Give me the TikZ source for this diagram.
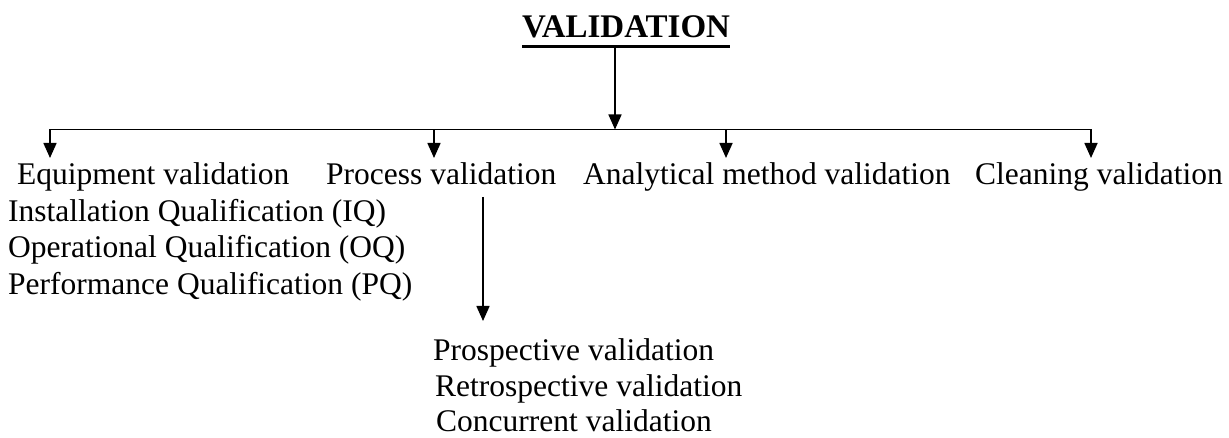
\documentclass[tikz,border=0pt]{standalone}
\usepackage{fontspec}
\setmainfont{Liberation Serif}
\usetikzlibrary{arrows.meta}
\tikzset{
  lbl/.style={anchor=base west, inner sep=0pt, font=\fontsize{31.5}{36}\selectfont},
  ttl/.style={anchor=base west, inner sep=0pt, font=\fontsize{33}{36}\selectfont\bfseries},
  conn/.style={line width=1.6pt, black},
  arr/.style={conn, -{Triangle[width=13pt,length=15pt]}}
}
\begin{document}
\begin{tikzpicture}[x=1pt,y=-1pt]
\useasboundingbox (0,0) rectangle (1229,438);
% title
\node[ttl] (title) at (522,38) {VALIDATION};
\draw[line width=2.6pt] ([yshift=-8.5pt]title.base west) -- ([yshift=-8.5pt]title.base east);
% level-1 labels
\node[lbl] (eq) at (17,185) {Equipment validation};
\node[lbl] (pr) at (326,185) {Process validation};
\node[lbl] (an) at (583,185) {Analytical method validation};
\node[lbl] (cl) at (975,185) {Cleaning validation};
% equipment sub-items
\node[lbl] (iq) at (8,221.5) {Installation Qualification (IQ)};
\node[lbl] (oq) at (8,258) {Operational Qualification (OQ)};
\node[lbl] (pq) at (8,294.5) {Performance Qualification (PQ)};
% process sub-items
\node[lbl] (pv) at (433,360) {Prospective validation};
\node[lbl] (rv) at (435,396) {Retrospective validation};
\node[lbl] (cv) at (436,431) {Concurrent validation};
% coordinates
\coordinate (top) at (615,47);
\coordinate (hub) at (615,129.5);
\coordinate (b1) at (50,129.5);
\coordinate (b2) at (434,129.5);
\coordinate (b3) at (726,129.5);
\coordinate (b4) at (1091,129.5);
\coordinate (t1) at (50,158);
\coordinate (t2) at (434,158);
\coordinate (t3) at (726,158);
\coordinate (t4) at (1091,158);
\coordinate (ps) at (483,197);
\coordinate (pt) at (483,321);
% connectors
\draw[arr] (top) -- (hub);
\draw[conn] (b1) -- (b4);
\draw[arr] (b1) -- (t1);
\draw[arr] (b2) -- (t2);
\draw[arr] (b3) -- (t3);
\draw[arr] (b4) -- (t4);
\draw[arr] (ps) -- (pt);
\end{tikzpicture}
\end{document}
